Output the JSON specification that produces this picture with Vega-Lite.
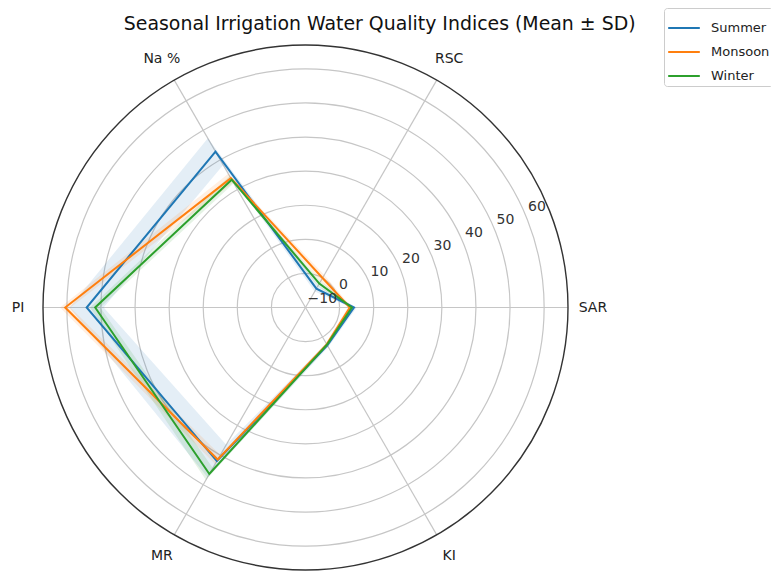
{
  "$schema": "https://vega.github.io/schema/vega-lite/v6.json",
  "width": 525,
  "height": 525,
  "autosize": {"type": "none"},
  "padding": {"left": 43, "top": 45, "right": 203, "bottom": 2},
  "background": "white",
  "config": {"view": {"stroke": null}},
  "title": {
    "text": "Seasonal Irrigation Water Quality Indices  (Mean ± SD)",
    "font": "DejaVu Sans",
    "fontSize": 18.9,
    "fontWeight": "normal",
    "color": "#111111",
    "anchor": "start",
    "dx": 112,
    "dy": 38,
    "offset": 12
  },
  "datasets": {
    "stats": [
      {"season": "Summer", "index": "SAR", "mean": 4.2, "sd": 0.8},
      {"season": "Summer", "index": "RSC", "mean": -3.6, "sd": 1.0},
      {"season": "Summer", "index": "Na %", "mean": 42.8, "sd": 4.5},
      {"season": "Summer", "index": "PI", "mean": 54.2, "sd": 5.0},
      {"season": "Summer", "index": "MR", "mean": 42.0, "sd": 5.5},
      {"season": "Summer", "index": "KI", "mean": 2.8, "sd": 0.6},
      {"season": "Monsoon", "index": "SAR", "mean": 3.0, "sd": 0.6},
      {"season": "Monsoon", "index": "RSC", "mean": 0.0, "sd": 1.0},
      {"season": "Monsoon", "index": "Na %", "mean": 33.8, "sd": 1.5},
      {"season": "Monsoon", "index": "PI", "mean": 60.5, "sd": 1.5},
      {"season": "Monsoon", "index": "MR", "mean": 41.5, "sd": 1.5},
      {"season": "Monsoon", "index": "KI", "mean": 2.5, "sd": 0.5},
      {"season": "Winter", "index": "SAR", "mean": 3.6, "sd": 0.6},
      {"season": "Winter", "index": "RSC", "mean": -1.9, "sd": 0.8},
      {"season": "Winter", "index": "Na %", "mean": 33.3, "sd": 1.2},
      {"season": "Winter", "index": "PI", "mean": 51.7, "sd": 1.5},
      {"season": "Winter", "index": "MR", "mean": 46.4, "sd": 2.0},
      {"season": "Winter", "index": "KI", "mean": 2.6, "sd": 0.5}
    ],
    "rings": [
      {"ring": 0}, {"ring": 10}, {"ring": 20}, {"ring": 30},
      {"ring": 40}, {"ring": 50}, {"ring": 60}
    ],
    "ticks": [
      {"ring": -10, "label": "−10"}, {"ring": 0, "label": "0"},
      {"ring": 10, "label": "10"}, {"ring": 20, "label": "20"},
      {"ring": 30, "label": "30"}, {"ring": 40, "label": "40"},
      {"ring": 50, "label": "50"}, {"ring": 60, "label": "60"}
    ],
    "axes": [
      {"index": "SAR"}, {"index": "RSC"}, {"index": "Na %"},
      {"index": "PI"}, {"index": "MR"}, {"index": "KI"}
    ]
  },
  "layer": [
    {
      "data": {"name": "rings"},
      "transform": [{"calculate": "datum.ring + 10", "as": "u"}, {"calculate": "0", "as": "o"}],
      "mark": {"type": "point", "shape": "circle", "filled": false, "stroke": "#c6c6c6", "strokeWidth": 1.2, "opacity": 1},
      "encoding": {
        "x": {"field": "o", "type": "quantitative", "scale": {"domain": [-77, 77], "nice": false}, "axis": null},
        "y": {"field": "o", "type": "quantitative", "scale": {"domain": [-77, 77], "nice": false}, "axis": null},
        "size": {"field": "u", "type": "quantitative", "scale": {"type": "pow", "exponent": 2, "domain": [0, 77], "range": [0, 275625], "zero": true, "nice": false}, "legend": null}
      }
    },
    {
      "data": {"name": "axes"},
      "transform": [
        {"calculate": "indexof(['SAR','RSC','Na %','PI','MR','KI'], datum.index)*PI/3", "as": "ang"},
        {"calculate": "77*cos(datum.ang)", "as": "sx"},
        {"calculate": "77*sin(datum.ang)", "as": "sy"},
        {"calculate": "0", "as": "o"}
      ],
      "mark": {"type": "rule", "stroke": "#c6c6c6", "strokeWidth": 1.2},
      "encoding": {
        "x": {"field": "o", "type": "quantitative", "scale": {"domain": [-77, 77], "nice": false}, "axis": null},
        "y": {"field": "o", "type": "quantitative", "scale": {"domain": [-77, 77], "nice": false}, "axis": null},
        "x2": {"field": "sx"},
        "y2": {"field": "sy"}
      }
    },
    {
      "data": {"name": "stats"},
      "transform": [
        {"calculate": "indexof(['SAR','RSC','Na %','PI','MR','KI'], datum.index)", "as": "k"},
        {"calculate": "datum.mean + datum.sd", "as": "hi"},
        {"calculate": "datum.mean - datum.sd", "as": "lo"},
        {"fold": ["hi", "lo"], "as": ["side", "v"]},
        {"calculate": "datum.k", "as": "ka"},
        {"calculate": "datum.k == 0 ? 6 : datum.k", "as": "kb"},
        {"fold": ["ka", "kb"], "as": ["dup", "kk"]},
        {"calculate": "datum.side == 'hi' ? datum.kk : 13 - datum.kk", "as": "ord"},
        {"calculate": "(datum.v + 10) * cos(datum.kk * PI / 3)", "as": "px"},
        {"calculate": "(datum.v + 10) * sin(datum.kk * PI / 3)", "as": "py"}
      ],
      "mark": {"type": "line", "filled": true, "fillOpacity": 0.12, "strokeWidth": 0, "interpolate": "linear-closed"},
      "encoding": {
        "x": {"field": "px", "type": "quantitative", "scale": {"domain": [-77, 77], "nice": false}, "axis": null},
        "y": {"field": "py", "type": "quantitative", "scale": {"domain": [-77, 77], "nice": false}, "axis": null},
        "order": {"field": "ord", "type": "quantitative"},
        "color": {"field": "season", "type": "nominal", "scale": {"domain": ["Summer", "Monsoon", "Winter"], "range": ["#1f77b4", "#ff7f0e", "#2ca02c"]}}
      }
    },
    {
      "data": {"name": "stats"},
      "transform": [
        {"calculate": "indexof(['SAR','RSC','Na %','PI','MR','KI'], datum.index)", "as": "k"},
        {"calculate": "(datum.mean + 10) * cos(datum.k * PI / 3)", "as": "px"},
        {"calculate": "(datum.mean + 10) * sin(datum.k * PI / 3)", "as": "py"}
      ],
      "mark": {"type": "line", "strokeWidth": 2, "interpolate": "linear-closed"},
      "encoding": {
        "x": {"field": "px", "type": "quantitative", "scale": {"domain": [-77, 77], "nice": false}, "axis": null},
        "y": {"field": "py", "type": "quantitative", "scale": {"domain": [-77, 77], "nice": false}, "axis": null},
        "order": {"field": "k", "type": "quantitative"},
        "color": {
          "field": "season", "type": "nominal",
          "scale": {"domain": ["Summer", "Monsoon", "Winter"], "range": ["#1f77b4", "#ff7f0e", "#2ca02c"]},
          "legend": {
            "title": null, "orient": "none", "legendX": 621, "legendY": -37,
            "symbolType": "stroke", "symbolStrokeWidth": 2, "symbolSize": 1000, "symbolOpacity": 1,
            "labelFont": "DejaVu Sans", "labelFontSize": 13, "labelColor": "#222222",
            "labelOffset": 10, "rowPadding": -5,
            "strokeColor": "#cccccc", "fillColor": "white", "cornerRadius": 3, "padding": 3
          }
        }
      }
    },
    {
      "data": {"values": [{"u": 77}]},
      "transform": [{"calculate": "0", "as": "o"}],
      "mark": {"type": "point", "shape": "circle", "filled": false, "stroke": "#333333", "strokeWidth": 1.4, "opacity": 1, "size": 275625},
      "encoding": {
        "x": {"field": "o", "type": "quantitative", "scale": {"domain": [-77, 77], "nice": false}, "axis": null},
        "y": {"field": "o", "type": "quantitative", "scale": {"domain": [-77, 77], "nice": false}, "axis": null}
      }
    },
    {
      "data": {"name": "ticks"},
      "transform": [
        {"calculate": "(datum.ring + 10) * cos(PI / 8)", "as": "px"},
        {"calculate": "(datum.ring + 10) * sin(PI / 8)", "as": "py"}
      ],
      "mark": {"type": "text", "align": "left", "baseline": "bottom", "dx": 2, "dy": -2, "font": "DejaVu Sans", "fontSize": 14, "fill": "#333333"},
      "encoding": {
        "x": {"field": "px", "type": "quantitative", "scale": {"domain": [-77, 77], "nice": false}, "axis": null},
        "y": {"field": "py", "type": "quantitative", "scale": {"domain": [-77, 77], "nice": false}, "axis": null},
        "text": {"field": "label", "type": "nominal"}
      }
    },
    {
      "data": {"name": "axes"},
      "transform": [
        {"calculate": "indexof(['SAR','RSC','Na %','PI','MR','KI'], datum.index)*PI/3", "as": "ang"},
        {"calculate": "84.3*cos(datum.ang)", "as": "px"},
        {"calculate": "84.3*sin(datum.ang)", "as": "py"}
      ],
      "mark": {"type": "text", "align": "center", "baseline": "middle", "font": "DejaVu Sans", "fontSize": 14, "fill": "#222222"},
      "encoding": {
        "x": {"field": "px", "type": "quantitative", "scale": {"domain": [-77, 77], "nice": false}, "axis": null},
        "y": {"field": "py", "type": "quantitative", "scale": {"domain": [-77, 77], "nice": false}, "axis": null},
        "text": {"field": "index", "type": "nominal"}
      }
    }
  ]
}
